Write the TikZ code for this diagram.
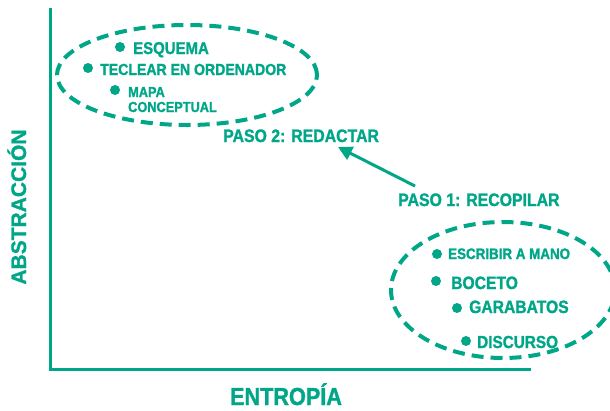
\documentclass[tikz,border=0pt]{standalone}
\usepackage{fontspec}
\usepackage{tikz}
\usetikzlibrary{arrows.meta}
\setmainfont{Liberation Sans}[BoldFeatures={FakeBold=1.2}]
\newfontfamily\condfont[FakeStretch=0.88,BoldFeatures={FakeBold=1.4}]{Liberation Sans}
\definecolor{verde}{RGB}{0,166,136}
\newcommand\tsize[1]{\fontsize{#1}{#1}\selectfont}

\tikzset{
	dot/.style={circle,fill=verde,inner sep=0,minimum size=10pt},
	item/.style={anchor=base west,inner sep=0,text=verde},
	ring/.style={draw=verde,line width=4pt,dash pattern=on 12pt off 7pt},
}

\begin{document}
\begin{tikzpicture}[x=1pt,y=-1pt]
	\clip (0,0) rectangle (610,410);

	% axes
	\draw[verde,line width=3pt] (50,8) -- (50,369) -- (531,369);
	\node[item,anchor=base,font=\condfont\bfseries\tsize{24.6}] (xlab) at (286,405) {ENTROP\'IA};
	\node[item,anchor=base,rotate=90,font=\bfseries\tsize{21}] (ylab) at (26,207) {ABSTRACCI\'ON};

	% groups
	\draw[ring] (187,75) ellipse [x radius=130pt, y radius=50pt];
	\draw[ring] (503,290) ellipse [x radius=112pt, y radius=68pt];

	\foreach \n/\x/\y in {b1/120/47, b2/88/68, b3/115/90, c1/437/254, c2/436/281, c3/457/308, c4/466/341}{
		\node[dot] (\n) at (\x,\y) {};
	}

	\node[item,font=\condfont\bfseries\tsize{17}] (esquema) at (133,54) {ESQUEMA};
	\node[item,font=\condfont\bfseries\tsize{16}] (teclear) at (100,75) {TECLEAR EN ORDENADOR};
	\node[item,font=\condfont\bfseries\tsize{14.5}] (mapa) at (128,97) {MAPA};
	\node[item,font=\condfont\bfseries\tsize{14.5}] (concep) at (128,112) {CONCEPTUAL};

	\node[item,font=\condfont\bfseries\tsize{15.2}] (escribir) at (448,259) {ESCRIBIR A MANO};
	\node[item,font=\condfont\bfseries\tsize{17.8}] (boceto) at (451,289) {BOCETO};
	\node[item,font=\condfont\bfseries\tsize{17.8}] (garab) at (469,313) {GARABATOS};
	\node[item,font=\condfont\bfseries\tsize{17.4}] (discurso) at (477,348) {DISCURSO};

	% steps
	\node[item,font=\condfont\bfseries\tsize{18}] (paso2) at (223,142) {PASO 2: REDACTAR};
	\node[item,font=\condfont\bfseries\tsize{18}] (paso1) at (398,206) {PASO 1: RECOPILAR};
	\coordinate (from) at (415,186);
	\coordinate (to) at (338,147);
	\draw[verde,line width=3pt,-{Triangle[length=14pt,width=14pt]}] (from) -- (to);
\end{tikzpicture}
\end{document}
